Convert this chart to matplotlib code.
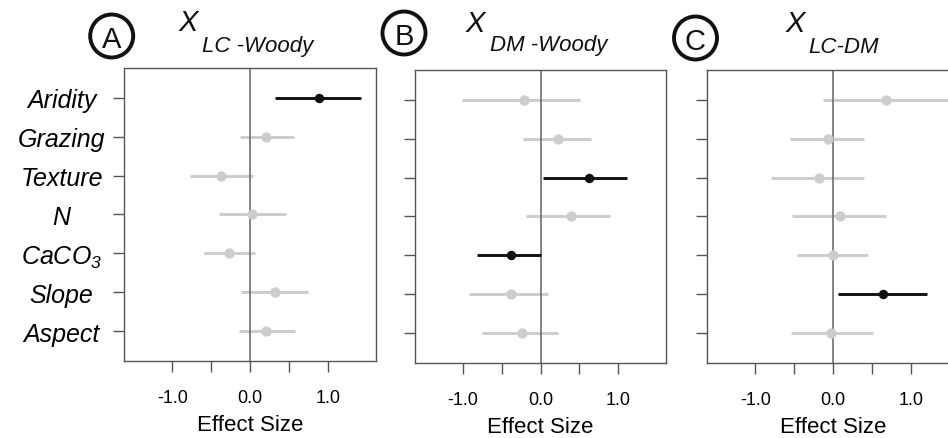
import matplotlib
matplotlib.use("Agg")
import matplotlib.pyplot as plt
from matplotlib.patches import Ellipse

plt.rcParams['font.family'] = ['Liberation Sans', 'DejaVu Sans']
plt.rcParams['mathtext.fontset'] = 'custom'
plt.rcParams['mathtext.rm'] = 'Liberation Sans:italic'
plt.rcParams['mathtext.it'] = 'Liberation Sans:italic'

variables = ['Aridity', 'Grazing', 'Texture', 'N', 'CaCO$_3$', 'Slope', 'Aspect']

# panel A: X LC-Woody
a_est = [0.885, 0.21, -0.37, 0.03, -0.27, 0.32, 0.21]
a_lo = [0.32, -0.13, -0.77, -0.40, -0.59, -0.12, -0.14]
a_hi = [1.43, 0.57, 0.04, 0.46, 0.06, 0.75, 0.58]
a_sig = [True, False, False, False, False, False, False]

# panel B: X DM-Woody
b_est = [-0.215, 0.23, 0.63, 0.40, -0.375, -0.375, -0.245]
b_lo = [-1.01, -0.23, 0.03, -0.19, -0.82, -0.92, -0.75]
b_hi = [0.51, 0.65, 1.12, 0.90, 0.0, 0.10, 0.23]
b_sig = [False, False, True, False, True, False, False]

# panel C: X LC-DM
c_est = [0.68, -0.065, -0.185, 0.095, 0.0, 0.64, -0.025]
c_lo = [-0.13, -0.55, -0.80, -0.525, -0.46, 0.07, -0.54]
c_hi = [1.65, 0.40, 0.40, 0.685, 0.45, 1.21, 0.51]
c_sig = [False, False, False, False, False, True, False]

xticks = [-1.0, -0.5, 0.0, 0.5, 1.0]
xticklabels = ['-1.0', '', '0.0', '', '1.0']

W, H = 948, 439
fig = plt.figure(figsize=(W / 100, H / 100), dpi=100)

def fx(px):
    return px / W

def fy(py):
    return 1 - py / H

panels = [
    (124, 69, 376, 362, a_est, a_lo, a_hi, a_sig, 'A', (111.7, 37), 'LC -Woody', (179, 31), (202, 52)),
    (415, 71, 666, 364, b_est, b_lo, b_hi, b_sig, 'B', (404, 34), 'DM -Woody', (466, 32), (490, 51)),
    (707, 71, 959, 364, c_est, c_lo, c_hi, c_sig, 'C', (695.5, 39), 'LC-DM', (786, 32), (808, 53)),
]

edge = '#555555'
for i, (x0, y0, x1, y1, est, lo, hi, sig, letter, cpos, sub, xpos, spos) in enumerate(panels):
    ax = fig.add_axes([fx(x0), fy(y1), fx(x1 - x0), (y1 - y0) / H])
    ypos = list(range(1, len(variables) + 1))
    ax.axvline(0, color='#6e6e6e', lw=1.2, zorder=2)
    for k in range(len(variables)):
        col = '#111111' if sig[k] else '#cccccc'
        ms = 6.8 if sig[k] else 7.4
        z = 4 if sig[k] else 1
        ax.plot([lo[k], hi[k]], [ypos[k], ypos[k]], color=col, lw=2.1,
                solid_capstyle='butt', zorder=z)
        ax.plot(est[k], ypos[k], 'o', color=col, ms=ms, mec='none', zorder=z + 2)
    ax.set_xlim(-1.62, 1.62)
    ax.set_ylim(7.77, 0.23)
    ax.set_xticks(xticks)
    ax.set_xticklabels(xticklabels, fontsize=13)
    ax.set_yticks(ypos)
    if i == 0:
        ax.set_yticklabels(variables, fontsize=18, style='italic', ha='center')
        ax.tick_params(axis='y', pad=37)
    else:
        ax.set_yticklabels([])
    ax.tick_params(direction='out', length=8, width=1, color=edge)
    ax.tick_params(axis='x', pad=12)
    ax.set_xlabel('Effect Size', fontsize=16, labelpad=6)
    for s in ax.spines.values():
        s.set_color(edge)
        s.set_linewidth(1.0)

    # circled panel letter
    fig.add_artist(Ellipse((fx(cpos[0]), fy(cpos[1])), 43 / W, 43 / H,
                           transform=fig.transFigure, fill=False, lw=2.8,
                           edgecolor='#111111'))
    fig.text(fx(cpos[0]), fy(cpos[1]), letter, fontsize=21, ha='center',
             va='center_baseline', color='#111111')
    fig.text(fx(xpos[0]), fy(xpos[1]), 'X', fontsize=21, style='italic',
             ha='left', va='baseline', color='#111111')
    fig.text(fx(spos[0]), fy(spos[1]), sub, fontsize=16, style='italic',
             ha='left', va='baseline', color='#111111')

fig.savefig('out.png', dpi=100)
